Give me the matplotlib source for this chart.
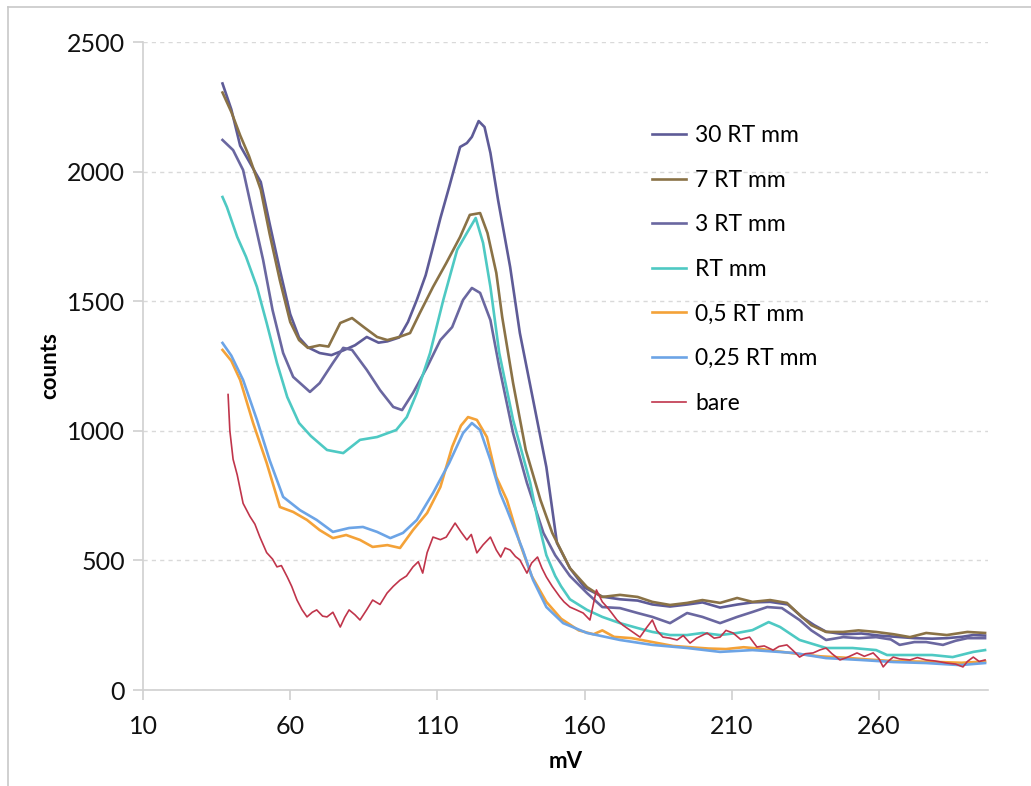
import matplotlib
matplotlib.use("Agg")
import matplotlib.pyplot as plt
from matplotlib.lines import Line2D

plt.rcParams["font.family"] = ["Lato", "DejaVu Sans"]

# pulse-height spectra, counts vs mV
mv_30rt = [37, 40, 43, 46, 50, 53, 56.5, 60, 63, 66, 70, 74, 78, 82, 86, 90, 93, 97, 100, 103,
           106, 108.5, 111, 114, 117.7, 120, 121.7, 124, 126, 128, 130.6, 134.7, 138, 142.5, 147,
           150.6, 155, 160, 166, 172, 178, 183, 189, 195, 200, 206, 212, 217, 223, 229, 234, 238,
           242, 248, 254, 260, 266, 272, 278, 283, 288, 292, 296]
counts_30rt = [2340, 2240, 2100, 2040, 1960, 1800, 1620, 1450, 1360, 1322, 1300, 1292, 1310, 1330,
               1362, 1340, 1345, 1360, 1420, 1505, 1600, 1709, 1820, 1941, 2095, 2110, 2134, 2195,
               2172, 2072, 1890, 1632, 1377, 1119, 860, 567, 470, 395, 360, 350, 345, 330, 322, 330,
               338, 318, 330, 338, 340, 330, 280, 250, 225, 215, 218, 210, 205, 200, 198, 200, 205,
               212, 210]

mv_7rt = [37, 40, 43, 46, 50, 53, 56.5, 60, 63, 66, 70, 73, 77, 81, 85, 89.5, 93, 97, 100.7, 104,
          108.5, 113, 117.7, 121, 124.5, 127, 130, 132, 135.7, 140, 145, 149, 155, 160.8, 166, 172,
          178, 183, 189, 194.8, 200, 206, 211.8, 217, 223, 228.7, 233, 237, 242, 247.8, 253, 259,
          265, 270.5, 276, 283, 290, 296]
counts_7rt = [2305, 2230, 2140, 2060, 1930, 1760, 1580, 1420, 1350, 1320, 1330, 1325, 1416, 1435,
              1400, 1362, 1350, 1362, 1377, 1454, 1555, 1647, 1748, 1833, 1840, 1763, 1609, 1439,
              1184, 926, 733, 606, 470, 397, 359, 367, 359, 340, 328, 336, 347, 336, 355, 340, 347,
              336, 290, 250, 224, 224, 230, 224, 215, 204, 220, 212, 224, 220]

mv_3rt = [37, 40.6, 44, 47, 50.8, 54, 57.6, 61, 66.7, 70, 74.5, 78, 81, 86, 90.5, 95, 98, 101.7,
          106.5, 111, 115, 118.7, 121.7, 124.5, 128, 131, 135.7, 140.4, 146, 150, 155, 160.8, 166,
          172, 178, 183, 189, 194.8, 200, 206, 211.8, 217, 222, 227, 233, 237, 242, 247.8, 253,
          259, 264, 267, 272, 276, 281.7, 286, 290, 296]
counts_3rt = [2122, 2083, 2006, 1852, 1659, 1466, 1300, 1208, 1150, 1184, 1262, 1320, 1312, 1235,
              1157, 1092, 1080, 1146, 1246, 1350, 1400, 1505, 1551, 1532, 1427, 1246, 991, 799,
              606, 520, 440, 374, 320, 316, 297, 282, 258, 297, 282, 258, 282, 301, 320, 316, 270,
              230, 193, 204, 200, 204, 195, 174, 185, 185, 174, 190, 200, 200]

mv_rt = [37, 38.5, 42, 45, 48.7, 52, 55.5, 59, 63, 67, 72.5, 78, 83.7, 89.5, 96, 99.6, 103, 107.5,
         112, 116.7, 120, 123, 125.5, 128, 131, 135.7, 141.5, 144, 147, 150, 152, 155, 160.8, 166,
         172, 178, 183, 189, 194.8, 200, 206, 211.8, 217, 222.5, 226.4, 233, 242, 251, 259, 262.7,
         270.5, 278, 285, 292, 296]
counts_rt = [1902, 1863, 1748, 1671, 1555, 1416, 1262, 1130, 1030, 980, 926, 914, 965, 976, 1003,
             1053, 1146, 1300, 1505, 1698, 1763, 1821, 1725, 1555, 1300, 1042, 800, 660, 520, 440,
             400, 350, 309, 282, 258, 239, 224, 212, 212, 220, 212, 220, 231, 262, 243, 193, 162,
             162, 154, 135, 135, 135, 127, 147, 154]

mv_05rt = [37, 40, 43, 47.4, 52, 56.5, 61, 65.7, 70, 74.5, 79, 83.7, 88, 93, 97.3, 101.7, 106.5,
           111, 115, 118, 120.4, 123.4, 126.8, 130, 133.6, 138, 142, 147, 152, 158, 163, 166, 170,
           176, 183, 190, 196, 202, 208, 214, 219, 225, 232, 240, 248, 256, 264, 272, 280, 288, 296]
counts_05rt = [1312, 1270, 1196, 1030, 876, 706, 687, 656, 617, 586, 598, 579, 552, 559, 548, 617,
               683, 783, 938, 1020, 1053, 1042, 976, 822, 733, 567, 440, 340, 275, 230, 215, 230,
               205, 200, 185, 170, 165, 160, 158, 165, 160, 150, 140, 130, 125, 118, 112, 110, 108,
               105, 110]

mv_025rt = [37, 40, 44, 48.7, 53, 57.6, 63.3, 69, 74.5, 80, 84.7, 89.5, 94, 98.3, 103, 108.5, 114,
            118.7, 121.7, 124.5, 128, 131.3, 133.5, 139, 142.5, 147, 152.7, 160.8, 172, 183, 194.8,
            206, 217, 231, 242, 253.5, 264.8, 276, 287.5, 296]
counts_025rt = [1339, 1290, 1196, 1042, 887, 745, 694, 656, 610, 625, 629, 610, 586, 606, 656, 760,
                876, 991, 1030, 1003, 887, 760, 700, 540, 424, 320, 258, 220, 193, 174, 162, 147,
                154, 143, 123, 116, 108, 104, 96, 104]

mv_bare = [38.9, 39.5, 40.6, 42, 44, 46.3, 48, 49.7, 52, 54, 55.5, 57, 59, 60.5, 62.3, 64, 65.7,
           67.5, 69, 71, 72.5, 74.5, 77, 78.5, 80, 82, 83.7, 86, 88, 90.5, 92.9, 95, 97.3, 99.5,
           101.7, 103.5, 105, 106.5, 108.5, 111, 113, 116, 118, 120, 121.5, 123.4, 125.5, 128, 130,
           131.5, 133, 134.7, 136.5, 138, 140.4, 142, 144, 145.5, 147, 149, 151.6, 153, 155, 157,
           159.5, 161.8, 164, 166, 167.6, 169, 171, 173, 175.4, 178.8, 181, 183, 184.5, 186.6, 189,
           191.4, 193.5, 195.8, 198, 201.6, 204, 206, 208, 210.4, 213, 216, 218.5, 221, 224, 226,
           228.7, 231, 233, 235, 237.6, 240, 242, 244, 246.7, 249, 252.5, 255, 258, 260, 261.4,
           263, 264.8, 267, 270.5, 273, 276, 279, 283, 286, 288.5, 290, 292, 294, 296]
counts_bare = [1140, 1000, 890, 830, 720, 670, 640, 590, 530, 505, 475, 480, 436, 400, 347, 310,
               282, 300, 309, 285, 282, 300, 243, 280, 309, 290, 270, 310, 347, 330, 374, 400, 424,
               440, 475, 495, 451, 530, 590, 580, 590, 644, 610, 579, 600, 529, 560, 590, 540, 513,
               548, 540, 515, 502, 451, 490, 513, 470, 436, 400, 359, 340, 320, 310, 297, 270, 386,
               340, 320, 300, 270, 250, 231, 204, 240, 270, 230, 204, 200, 193, 210, 181, 200, 220,
               200, 204, 230, 220, 195, 204, 166, 170, 154, 168, 174, 150, 127, 140, 143, 155, 162,
               140, 116, 125, 143, 130, 143, 120, 89, 110, 127, 120, 116, 125, 116, 112, 104, 100,
               89, 110, 127, 110, 116]

series = [
    (mv_30rt, counts_30rt, "30 RT mm", "#5e5b97", 1.9),
    (mv_7rt, counts_7rt, "7 RT mm", "#8a7246", 1.9),
    (mv_3rt, counts_3rt, "3 RT mm", "#6a67a0", 1.9),
    (mv_rt, counts_rt, "RT mm", "#4ec9c3", 1.9),
    (mv_05rt, counts_05rt, "0,5 RT mm", "#f4a238", 1.9),
    (mv_025rt, counts_025rt, "0,25 RT mm", "#6ca4e6", 1.9),
    (mv_bare, counts_bare, "bare", "#c0354b", 1.2),
]

fig = plt.figure(figsize=(10.31, 7.86), dpi=100)
ax = fig.add_axes([143 / 1031, 1 - 690 / 786, 845 / 1031, 648 / 786])

for x, y, label, color, lw in series:
    ax.plot(x, y, color=color, lw=lw, label=label)

ax.set_xlim(10, 297)
ax.set_ylim(0, 2500)
ax.set_xticks(range(10, 261, 50))
ax.set_yticks(range(0, 2501, 500))
ax.grid(axis="y", color="#d9d9d9", linestyle=(0, (3, 3)), lw=1)
ax.set_axisbelow(True)

for side in ["top", "right"]:
    ax.spines[side].set_visible(False)
for side in ["left", "bottom"]:
    ax.spines[side].set_color("#d0d0d0")
    ax.spines[side].set_linewidth(1.2)
ax.tick_params(length=7, width=1.2, color="#d0d0d0", labelsize=18, labelcolor="#111111")
ax.tick_params(axis="x", pad=11)
ax.tick_params(axis="y", pad=6)

ax.set_xlabel("mV", fontsize=16, fontweight="bold", labelpad=9)
ax.set_ylabel("counts", fontsize=16, fontweight="bold", labelpad=5)

ax.legend(loc="upper left", bbox_to_anchor=(0.602, 0.872), frameon=False, fontsize=16.5,
          handlelength=1.5, handletextpad=0.4, labelspacing=1.03, borderpad=0, borderaxespad=0)

# outer chart frame
fig.add_artist(Line2D([8 / 1031, 8 / 1031], [0, 1 - 7 / 786], color="#c8c8c8", lw=1.2))
fig.add_artist(Line2D([8 / 1031, 1], [1 - 7 / 786, 1 - 7 / 786], color="#c8c8c8", lw=1.2))

fig.savefig("out.png", dpi=100)
